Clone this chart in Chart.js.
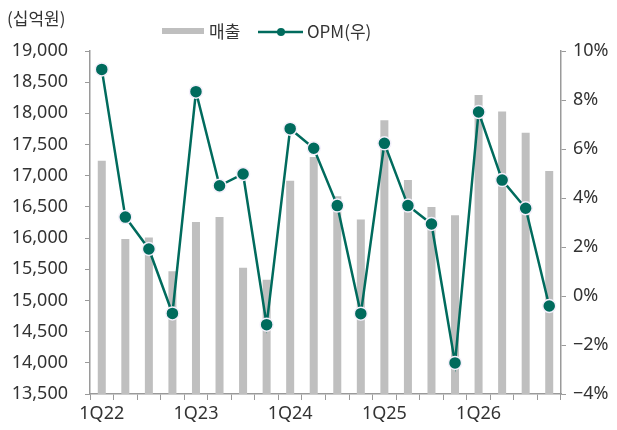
<!DOCTYPE html>
<html>
<head>
<meta charset="utf-8">
<script src="https://cdn.jsdelivr.net/npm/chart.js@4/dist/chart.umd.min.js"></script>
<style>
  html, body { margin: 0; padding: 0; background: #fff; }
  #wrap { width: 617px; height: 430px; }
</style>
</head>
<body>
<div id="wrap"><canvas id="salesChart" width="617" height="430"></canvas></div>
<script>
// quarters 1Q22 .. 4Q26
const quarters = [
    '1Q22', '2Q22', '3Q22', '4Q22',
    '1Q23', '2Q23', '3Q23', '4Q23',
    '1Q24', '2Q24', '3Q24', '4Q24',
    '1Q25', '2Q25', '3Q25', '4Q25',
    '1Q26', '2Q26', '3Q26', '4Q26'
];

// 매출 (십억원), left axis
const sales = [
    17240, 15985, 16010, 15470,
    16260, 16340, 15525, 15330,
    16920, 17300, 16670, 16300,
    17890, 16930, 16500, 16365,
    18295, 18030, 17690, 17075
];

// OPM (%), right axis
const opm = [
    9.25, 3.22, 1.92, -0.71,
    8.34, 4.50, 4.98, -1.17,
    6.83, 6.03, 3.69, -0.72,
    6.23, 3.69, 2.94, -2.73,
    7.51, 4.73, 3.58, -0.41
];

const unitLabel = '(십억원)';
const seriesNames = ['매출', 'OPM(우)'];

const barColor = '#bfbfbf';
const lineColor = '#006b5d';
const axisColor = '#9a9a9a';
const textColor = '#333333';

Chart.defaults.font.family = "'Noto Sans', 'Noto Sans CJK KR', sans-serif";
Chart.defaults.font.size = 18;
Chart.defaults.color = textColor;

// unit label + legend, drawn on top of the canvas
const headerPlugin = {
    id: 'header',
    afterDraw(chart) {
        const ctx = chart.ctx;
        ctx.save();
        ctx.fillStyle = textColor;
        ctx.textBaseline = 'middle';
        ctx.font = "17px 'Noto Sans CJK KR', sans-serif";
        ctx.fillText(unitLabel, 7, 19);

        // bar legend
        ctx.fillStyle = barColor;
        ctx.fillRect(162, 28, 42, 6);
        ctx.fillStyle = textColor;
        ctx.fillText(seriesNames[0], 209, 32);

        // line legend
        ctx.strokeStyle = lineColor;
        ctx.lineWidth = 2.5;
        ctx.beginPath();
        ctx.moveTo(258, 32);
        ctx.lineTo(303, 32);
        ctx.stroke();
        ctx.fillStyle = lineColor;
        ctx.beginPath();
        ctx.arc(281, 32, 4, 0, Math.PI * 2);
        ctx.fill();
        ctx.fillStyle = textColor;
        ctx.fillText(seriesNames[1], 307, 32);
        ctx.restore();
    }
};

const ctx = document.getElementById('salesChart').getContext('2d');
new Chart(ctx, {
    type: 'bar',
    data: {
        labels: quarters,
        datasets: [{
            label: seriesNames[0],
            data: sales,
            backgroundColor: barColor,
            categoryPercentage: 1,
            barPercentage: 0.34,
            yAxisID: 'y',
            order: 2
        }, {
            type: 'line',
            label: seriesNames[1],
            data: opm,
            borderColor: lineColor,
            borderWidth: 2.5,
            pointBackgroundColor: lineColor,
            pointBorderColor: '#f4f0fb',
            pointBorderWidth: 1.5,
            pointRadius: 6.5,
            tension: 0,
            yAxisID: 'y1',
            order: 1
        }]
    },
    options: {
        responsive: false,
        animation: false,
        layout: { padding: { top: 51, left: 0, right: 0, bottom: 0 } },
        plugins: {
            legend: { display: false },
            tooltip: { enabled: false }
        },
        scales: {
            x: {
                offset: true,
                grid: { offset: true, drawOnChartArea: false, tickLength: 6, color: axisColor },
                border: { color: axisColor, width: 1.5 },
                ticks: {
                    autoSkip: false,
                    maxRotation: 0,
                    padding: 3,
                    callback: (v, i) => (i % 4 === 0 ? quarters[i] : '')
                },
                afterFit: s => { s.height = 36; }
            },
            y: {
                position: 'left',
                min: 13500,
                max: 19000,
                grid: { drawOnChartArea: false, tickLength: 5, color: axisColor },
                border: { color: axisColor, width: 1.5 },
                ticks: {
                    stepSize: 500,
                    padding: 17,
                    callback: v => v.toLocaleString('en-US')
                },
                afterFit: s => { s.width = 90; }
            },
            y1: {
                position: 'right',
                min: -4,
                max: 10,
                grid: { drawOnChartArea: false, tickLength: 5, color: axisColor },
                border: { color: axisColor, width: 1.5 },
                ticks: {
                    stepSize: 2,
                    padding: 7,
                    callback: v => (v < 0 ? '\u2212' + Math.abs(v) : v) + '%'
                },
                afterFit: s => { s.width = 56; }
            }
        }
    },
    plugins: [headerPlugin]
});
</script>
</body>
</html>
